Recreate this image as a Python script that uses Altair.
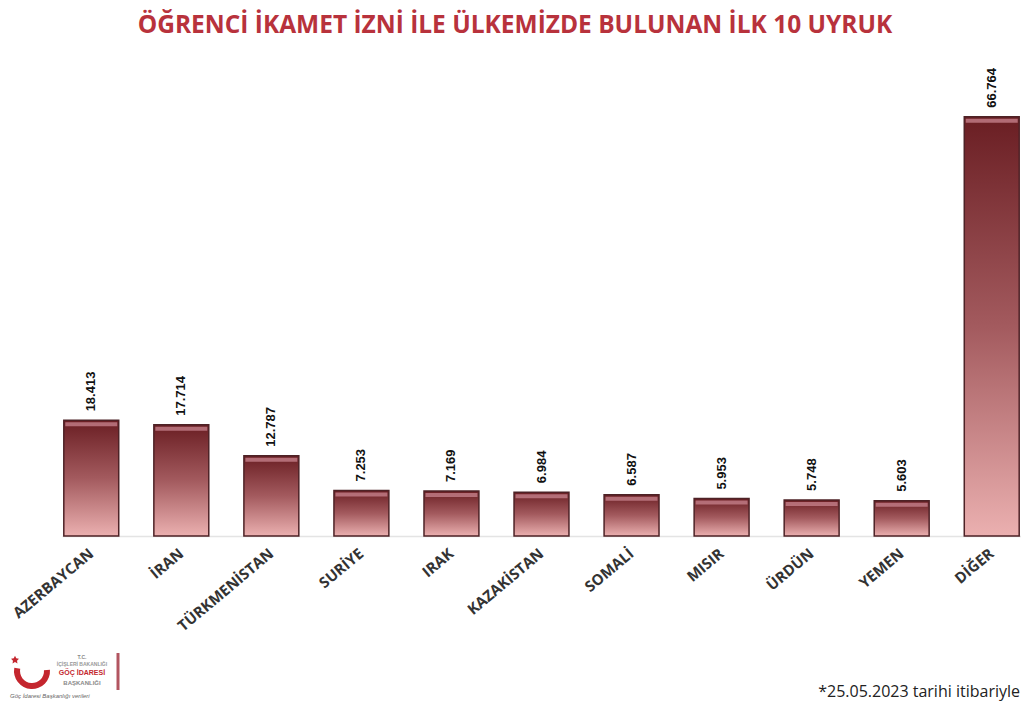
import altair as alt
import pandas as pd

countries = ["AZERBAYCAN", "İRAN", "TÜRKMENİSTAN", "SURİYE", "IRAK", "KAZAKİSTAN",
             "SOMALİ", "MISIR", "ÜRDÜN", "YEMEN", "DİĞER"]
counts = [18413, 17714, 12787, 7253, 7169, 6984, 6587, 5953, 5748, 5603, 66764]
title_text = "ÖĞRENCİ İKAMET İZNİ İLE ÜLKEMİZDE BULUNAN İLK 10 UYRUK"
footnote = "*25.05.2023 tarihi itibariyle"

df = pd.DataFrame({"uyruk": countries, "sayi": counts})
df["etiket"] = [f"{v:,}".replace(",", ".") for v in counts]

W, H = 959, 471

x = alt.X("uyruk:N", sort=countries,
          scale=alt.Scale(paddingInner=0.39, paddingOuter=0.02),
          axis=alt.Axis(title=None, labelAngle=-40, labelAlign="right", labelBaseline="middle",
                        labelFont="Open Sans", labelFontWeight="bold", labelFontSize=15,
                        labelColor="#333333", ticks=False, domainColor="#e4e4e4",
                        domainWidth=1.5, labelPadding=15, grid=False))
y = alt.Y("sayi:Q", scale=alt.Scale(domain=[0, 75000], nice=False), axis=None)

gradient = alt.Gradient(
    gradient="linear",
    stops=[alt.GradientStop(color="#6a1e23", offset=0),
           alt.GradientStop(color="#a35a5e", offset=0.5),
           alt.GradientStop(color="#ebb0b0", offset=1)],
    x1=0, x2=0, y1=0, y2=1)

base = alt.Chart(df)
bars = base.mark_bar(color=gradient, stroke="#4d2226", strokeWidth=1.5).encode(x=x, y=y)
bevel = base.mark_tick(color="#c98590", opacity=0.75, thickness=4, size=52, yOffset=4).encode(x=x, y=y)
labels = base.mark_text(angle=270, align="left", baseline="middle", dx=9,
                        font="Liberation Sans", fontWeight="bold", fontSize=13,
                        color="#111111").encode(x=x, y=y, text="etiket:N")

title = alt.Chart(pd.DataFrame({"t": [title_text]})).mark_text(
    font="Open Sans", fontWeight="bold", fontSize=24.5, color="#b8323c",
    align="center", baseline="middle").encode(x=alt.value(453), y=alt.value(-39), text="t:N")

foot = alt.Chart(pd.DataFrame({"t": [footnote]})).mark_text(
    font="Open Sans", fontSize=16, color="#222222", align="right", baseline="middle"
).encode(x=alt.value(958), y=alt.value(627), text="t:N")

# logo approximation
crescent = alt.Chart(pd.DataFrame({"a": [0]})).mark_arc(
    theta=1.5, theta2=4.9, radius=18, radius2=12, color="#c4262e"
).encode(x=alt.value(-30), y=alt.value(606))
star_path = "M0,-1L0.29,-0.4L0.95,-0.31L0.48,0.15L0.59,0.81L0,0.5L-0.59,0.81L-0.48,0.15L-0.95,-0.31L-0.29,-0.4Z"
star = alt.Chart(pd.DataFrame({"a": [0]})).mark_point(
    shape=star_path, filled=True, color="#c4262e", size=70, opacity=1
).encode(x=alt.value(-47), y=alt.value(595))
logo_df = pd.DataFrame({
    "t": ["T.C.", "İÇİŞLERİ BAKANLIĞI", "GÖÇ İDARESİ", "BAŞKANLIĞI"],
    "yy": [592, 599, 608, 618],
    "c": ["#888888", "#999999", "#c4262e", "#888888"],
    "fs": [5, 5, 7, 6],
})
logo_txt = alt.Chart(logo_df).mark_text(font="Liberation Sans", fontWeight="bold", align="center",
                                        baseline="middle").encode(
    x=alt.value(20), y=alt.Y("yy:Q", scale=None), text="t:N",
    color=alt.Color("c:N", scale=None), size=alt.Size("fs:Q", scale=None))
logo_rule = alt.Chart(pd.DataFrame({"a": [0]})).mark_rule(color="#b25560", strokeWidth=3).encode(
    x=alt.value(56), y=alt.value(588), y2=alt.value(625))
slogan = alt.Chart(pd.DataFrame({"t": ["Göç İdaresi Başkanlığı verileri"]})).mark_text(
    font="Liberation Sans", fontStyle="italic", fontSize=6, color="#666666", align="left",
    baseline="middle").encode(x=alt.value(-52), y=alt.value(631), text="t:N")

chart = alt.layer(bars, bevel, labels, title, foot, crescent, star, logo_txt, logo_rule, slogan).properties(
    width=W, height=H,
    background="white",
    autosize=alt.AutoSizeParams(type="none"),
    padding={"left": 54, "top": 57, "right": 0, "bottom": 168},
).configure_view(strokeWidth=0, stroke=None).configure_axis(grid=False)

chart.save("out.html", embed_options={"renderer": "svg", "actions": False})
